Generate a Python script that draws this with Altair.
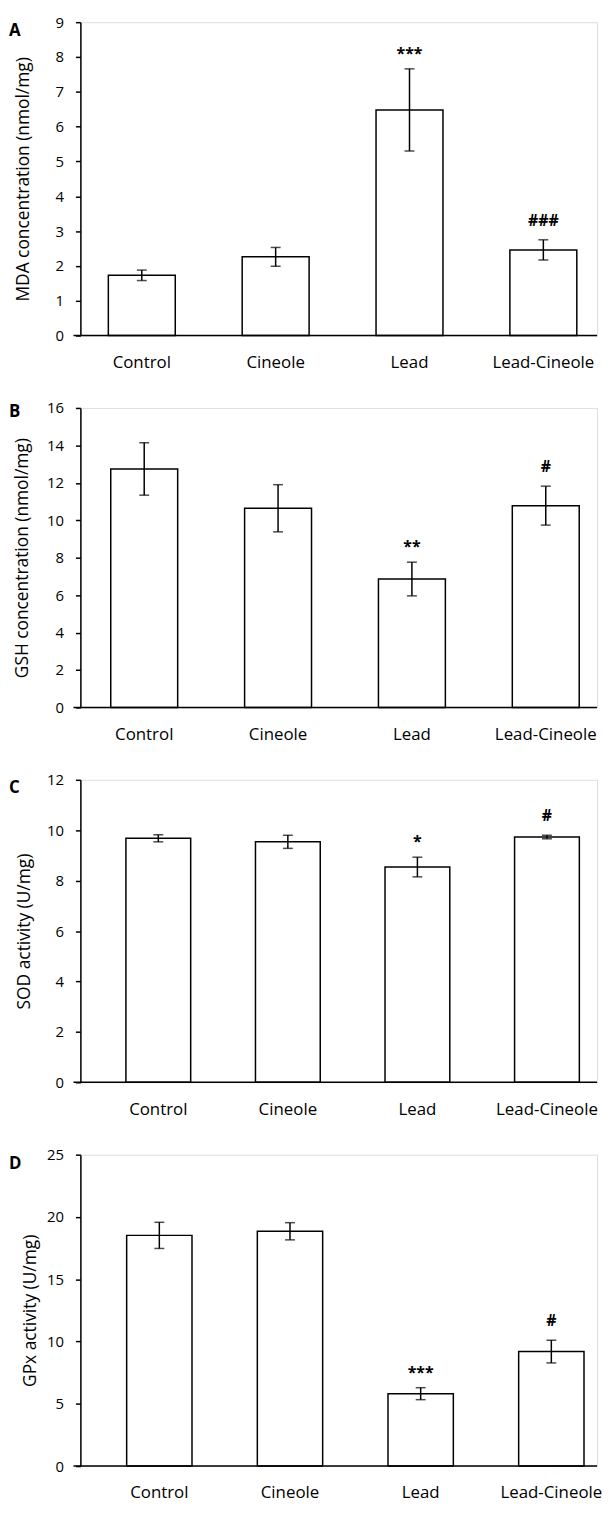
import altair as alt
import pandas as pd

groups = ["Control", "Cineole", "Lead", "Lead-Cineole"]

mda_mean = [1.73, 2.26, 6.48, 2.46]
mda_sem = [0.15, 0.27, 1.18, 0.29]
mda_sig = ["", "", "***", "###"]
mda_ticks = [0, 1, 2, 3, 4, 5, 6, 7, 8, 9]

gsh_mean = [12.74, 10.64, 6.86, 10.78]
gsh_sem = [1.40, 1.26, 0.90, 1.04]
gsh_sig = ["", "", "**", "#"]
gsh_ticks = [0, 2, 4, 6, 8, 10, 12, 14, 16]

sod_mean = [9.68, 9.54, 8.54, 9.73]
sod_sem = [0.14, 0.26, 0.39, 0.07]
sod_sig = ["", "", "*", "#"]
sod_ticks = [0, 2, 4, 6, 8, 10, 12]

gpx_mean = [18.52, 18.85, 5.81, 9.19]
gpx_sem = [1.05, 0.69, 0.48, 0.91]
gpx_sig = ["", "", "***", "#"]
gpx_ticks = [0, 5, 10, 15, 20, 25]

WIDTH = 521
LEAD = 72

panels = [
    dict(letter="A", title="MDA concentration (nmol/mg)", mean=mda_mean, sem=mda_sem,
         sig=mda_sig, ticks=mda_ticks, height=316, letter_y=9, title_pad=23,
         outer=0.18, align=0.58),
    dict(letter="B", title="GSH concentration (nmol/mg)", mean=gsh_mean, sem=gsh_sem,
         sig=gsh_sig, ticks=gsh_ticks, height=302, letter_y=4, title_pad=15,
         outer=0.18, align=0.63),
    dict(letter="C", title="SOD activity (U/mg)", mean=sod_mean, sem=sod_sem,
         sig=sod_sig, ticks=sod_ticks, height=305, letter_y=8, title_pad=13,
         outer=0.244, align=0.72),
    dict(letter="D", title="GPx activity (U/mg)", mean=gpx_mean, sem=gpx_sem,
         sig=gpx_sig, ticks=gpx_ticks, height=314, letter_y=9, title_pad=7,
         outer=0.227, align=0.78),
]

FONT = "Open Sans"


def make_panel(p):
    df = pd.DataFrame({"group": groups, "mean": p["mean"], "sem": p["sem"], "sig": p["sig"]})
    df["lo"] = df["mean"] - df["sem"]
    df["hi"] = df["mean"] + df["sem"]

    xscale = alt.Scale(paddingInner=0.5, paddingOuter=p["outer"], align=p["align"])
    xaxis = alt.Axis(title=None, labelAngle=0, domain=False, ticks=False, tickSize=0,
                     labelPadding=19, labelFontSize=17, labelColor="black", labelFont=FONT)
    yscale = alt.Scale(domain=[0, p["ticks"][-1]], nice=False, zero=True)
    yaxis = alt.Axis(title=p["title"], values=p["ticks"], grid=False,
                     domainColor="black", domainWidth=1.5, tickColor="black",
                     tickSize=5, tickWidth=1.5, labelPadding=12, labelFontSize=15,
                     labelColor="black", labelFont=FONT, titleFontSize=17.5,
                     titleFontWeight="normal", titleColor="black", titleFont=FONT,
                     titlePadding=p["title_pad"])

    def X():
        return alt.X("group:N", sort=groups, scale=xscale, axis=xaxis)

    def Y(field):
        return alt.Y(f"{field}:Q", scale=yscale, axis=yaxis)

    base = alt.Chart(df)
    bars = base.mark_bar(fill="white", stroke="black", strokeWidth=1.5).encode(
        x=X(), y=Y("mean"))
    err = base.mark_rule(color="black", strokeWidth=1.5).encode(
        x=X(), y=Y("lo"), y2="hi:Q")
    cap_lo = base.mark_tick(color="black", thickness=1.5, size=10).encode(x=X(), y=Y("lo"))
    cap_hi = base.mark_tick(color="black", thickness=1.5, size=10).encode(x=X(), y=Y("hi"))
    stars = base.transform_filter("substring(datum.sig, 0, 1) == '*'").mark_text(
        fontSize=16, fontWeight="bold", font=FONT, color="black", dy=-15,
        baseline="middle").encode(x=X(), y=Y("hi"), text="sig:N")
    hashes = base.transform_filter("substring(datum.sig, 0, 1) == '#'").mark_text(
        fontSize=16, fontWeight="bold", font=FONT, color="black", dy=-19,
        baseline="middle").encode(x=X(), y=Y("hi"), text="sig:N")

    one = alt.Chart(pd.DataFrame({"t": [p["letter"]]}))
    letter = one.mark_text(fontSize=17, fontWeight="bold", font=FONT, color="black",
                           align="left", baseline="middle").encode(
        x=alt.value(-LEAD), y=alt.value(p["letter_y"]), text="t:N")
    xline = one.mark_rule(color="black", strokeWidth=1.5).encode(
        x=alt.value(-7), x2=alt.value(WIDTH), y=alt.value(p["height"]))

    return alt.layer(bars, err, cap_lo, cap_hi, stars, hashes, letter, xline).properties(
        width=WIDTH, height=p["height"])


chart = alt.vconcat(*[make_panel(p) for p in panels], spacing=29).resolve_scale(
    x="independent", y="independent").properties(padding=0).configure_view(
    stroke=None).configure(font=FONT)

chart.save("out.html", embed_options={"renderer": "svg", "actions": False})
